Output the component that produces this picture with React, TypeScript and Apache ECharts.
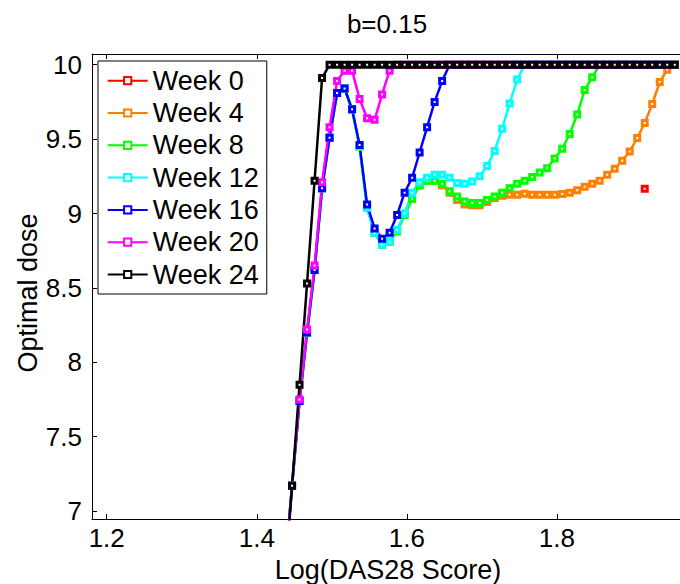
import React, { useEffect, useRef } from "react";
import * as echarts from "echarts";

// x positions: Log(DAS28 Score)
const xValues = [
  1.437, 1.447, 1.457, 1.467, 1.477, 1.487, 1.497, 1.507, 1.517, 1.527,
  1.537, 1.547, 1.557, 1.567, 1.577, 1.587, 1.597, 1.607, 1.617, 1.627,
  1.637, 1.647, 1.657, 1.667, 1.677, 1.687, 1.697, 1.707, 1.717, 1.727,
  1.737, 1.747, 1.757, 1.767, 1.777, 1.787, 1.797, 1.807, 1.817, 1.827,
  1.837, 1.847, 1.857, 1.867, 1.877, 1.887, 1.897, 1.907, 1.917, 1.927,
  1.937, 1.947, 1.957,
];

const week0 = [
  null, null, null, null, null, null, null, null, null, null,
  null, null, null, null, null, null, null, null, null, null,
  null, null, null, null, null, null, null, null, null, null,
  null, null, null, null, null, null, null, null, null, null,
  null, null, null, null, null, null, null, null, 9.167, null,
  null, null, null,
];

const week4 = [
  6.58, 7.17, 7.74, 8.2, 8.62, 9.17, 9.51, 9.81, 9.84, 9.7,
  9.45, 9.04, 8.87, 8.79, 8.81, 8.88, 8.99, 9.1, 9.19, 9.22,
  9.22, 9.19, 9.14, 9.09, 9.06, 9.055, 9.055, 9.077, 9.104, 9.12,
  9.126, 9.126, 9.133, 9.126, 9.126, 9.126, 9.126, 9.131, 9.14, 9.157,
  9.18, 9.2, 9.22, 9.26, 9.3, 9.355, 9.417, 9.507, 9.608, 9.736,
  9.884, 9.966, 10,
];

const week8 = [
  6.58, 7.17, 7.74, 8.2, 8.62, 9.17, 9.51, 9.81, 9.84, 9.7,
  9.45, 9.04, 8.87, 8.79, 8.81, 8.88, 8.99, 9.1, 9.19, 9.22,
  9.22, 9.2, 9.15, 9.115, 9.08, 9.07, 9.07, 9.09, 9.115, 9.14,
  9.17, 9.2, 9.22, 9.245, 9.275, 9.305, 9.37, 9.435, 9.535, 9.665,
  9.83, 9.915, 10, 10, 10, 10, 10, 10, 10, 10,
  10, 10, 10,
];

const week12 = [
  6.58, 7.17, 7.74, 8.2, 8.62, 9.17, 9.51, 9.81, 9.84, 9.7,
  9.45, 9.04, 8.87, 8.79, 8.81, 8.89, 9.0, 9.14, 9.21, 9.24,
  9.26, 9.26, 9.24, 9.205, 9.2, 9.215, 9.25, 9.32, 9.42, 9.57,
  9.74, 9.9, 10, 10, 10, 10, 10, 10, 10, 10,
  10, 10, 10, 10, 10, 10, 10, 10, 10, 10,
  10, 10, 10,
];

const week16 = [
  6.58, 7.17, 7.74, 8.2, 8.62, 9.17, 9.51, 9.81, 9.84, 9.7,
  9.46, 9.06, 8.9, 8.83, 8.87, 8.99, 9.14, 9.24, 9.41, 9.58,
  9.75, 9.89, 10, 10, 10, 10, 10, 10, 10, 10,
  10, 10, 10, 10, 10, 10, 10, 10, 10, 10,
  10, 10, 10, 10, 10, 10, 10, 10, 10, 10,
  10, 10, 10,
];

const week20 = [
  6.58, 7.17, 7.75, 8.22, 8.65, 9.21, 9.58, 9.89, 9.96, 9.96,
  9.77, 9.64, 9.63, 9.8, 9.96, 10, 10, 10, 10, 10,
  10, 10, 10, 10, 10, 10, 10, 10, 10, 10,
  10, 10, 10, 10, 10, 10, 10, 10, 10, 10,
  10, 10, 10, 10, 10, 10, 10, 10, 10, 10,
  10, 10, 10,
];

const week24 = [
  6.49, 7.17, 7.85, 8.53, 9.22, 9.91, 10, 10, 10, 10,
  10, 10, 10, 10, 10, 10, 10, 10, 10, 10,
  10, 10, 10, 10, 10, 10, 10, 10, 10, 10,
  10, 10, 10, 10, 10, 10, 10, 10, 10, 10,
  10, 10, 10, 10, 10, 10, 10, 10, 10, 10,
  10, 10, 10,
];

const seriesNames = ["Week 0", "Week 4", "Week 8", "Week 12", "Week 16", "Week 20", "Week 24"];
const seriesColors = ["#ff0000", "#ff8000", "#00ff00", "#00ffff", "#0000ff", "#ff00ff", "#000000"];
const seriesValues = [week0, week4, week8, week12, week16, week20, week24];

const xTicks = [1.2, 1.4, 1.6, 1.8];
const yTicks = [7, 7.5, 8, 8.5, 9, 9.5, 10];

const titleText = "b=0.15";
const xName = "Log(DAS28 Score)";
const yName = "Optimal dose";

const X_MIN = 1.1804;
const X_MAX = 1.964;
const Y_MIN = 6.947;
const Y_MAX = 10.072;

export default function App() {
  const ref = useRef<HTMLDivElement>(null);
  useEffect(() => {
    if (!ref.current) return;
    const chart = echarts.init(ref.current, null, { renderer: "svg" });
    const font = "'Liberation Sans', Arial, Helvetica, sans-serif";
    const axisCommon = {
      type: "value",
      splitLine: { show: false },
      axisLine: { show: true, onZero: false, lineStyle: { color: "#000", width: 1 } },
    };
    chart.setOption({
      animation: false,
      textStyle: { fontFamily: font },
      grid: { left: 92, top: 54, width: 589, height: 465, containLabel: false },
      legend: {
        orient: "vertical",
        left: 98,
        top: 61,
        padding: [6.2, 8, 6, 8.7],
        itemWidth: 40,
        itemHeight: 9,
        itemGap: 5.3,
        backgroundColor: "#ffffff",
        borderColor: "#000000",
        borderWidth: 1,
        borderRadius: 0,
        selectedMode: false,
        textStyle: { fontSize: 27, color: "#000", fontFamily: font, lineHeight: 27 },
        data: seriesNames,
      },
      xAxis: [
        {
          ...axisCommon,
          position: "bottom",
          min: X_MIN,
          max: X_MAX,
          axisTick: { show: true, inside: true, length: 5, customValues: xTicks, lineStyle: { color: "#000" } },
          axisLabel: {
            customValues: xTicks,
            formatter: (v: number) => String(Math.round(v * 10) / 10),
            fontSize: 26,
            color: "#000",
            margin: 6,
            fontFamily: font,
          },
        },
        {
          ...axisCommon,
          position: "top",
          min: X_MIN,
          max: X_MAX,
          axisTick: { show: true, inside: true, length: 5, customValues: xTicks, lineStyle: { color: "#000" } },
          axisLabel: { show: false },
        },
      ],
      yAxis: [
        {
          ...axisCommon,
          position: "left",
          min: Y_MIN,
          max: Y_MAX,
          axisTick: { show: true, inside: true, length: 5, customValues: yTicks, lineStyle: { color: "#000" } },
          axisLabel: {
            customValues: yTicks,
            formatter: (v: number) => String(Math.round(v * 10) / 10),
            fontSize: 26,
            color: "#000",
            margin: 10,
            fontFamily: font,
          },
        },
      ],
      graphic: [
        {
          type: "text",
          x: 387,
          y: 24,
          style: { text: titleText, fontSize: 26, fontFamily: font, fill: "#000", align: "center", verticalAlign: "middle" },
        },
        {
          type: "text",
          x: 388,
          y: 570,
          style: { text: xName, fontSize: 27, fontFamily: font, fill: "#000", align: "center", verticalAlign: "middle" },
        },
        {
          type: "text",
          x: 28,
          y: 293,
          rotation: Math.PI / 2,
          style: { text: yName, fontSize: 27, fontFamily: font, fill: "#000", align: "center", verticalAlign: "middle" },
        },
      ],
      series: seriesNames.map((name, s) => ({
        type: "line",
        name,
        data: xValues.map((x, k) => [x, seriesValues[s][k]]),
        symbol: "rect",
        symbolSize: 5,
        showSymbol: true,
        connectNulls: false,
        clip: true,
        silent: true,
        color: seriesColors[s],
        lineStyle: { color: seriesColors[s], width: 2.5 },
        itemStyle: { color: "#ffffff", borderColor: seriesColors[s], borderWidth: 3 },
        emphasis: { disabled: true },
      })),
    });
    return () => chart.dispose();
  }, []);
  return <div ref={ref} style={{ position: "absolute", left: 0, top: 0, width: 680, height: 584 }} />;
}
